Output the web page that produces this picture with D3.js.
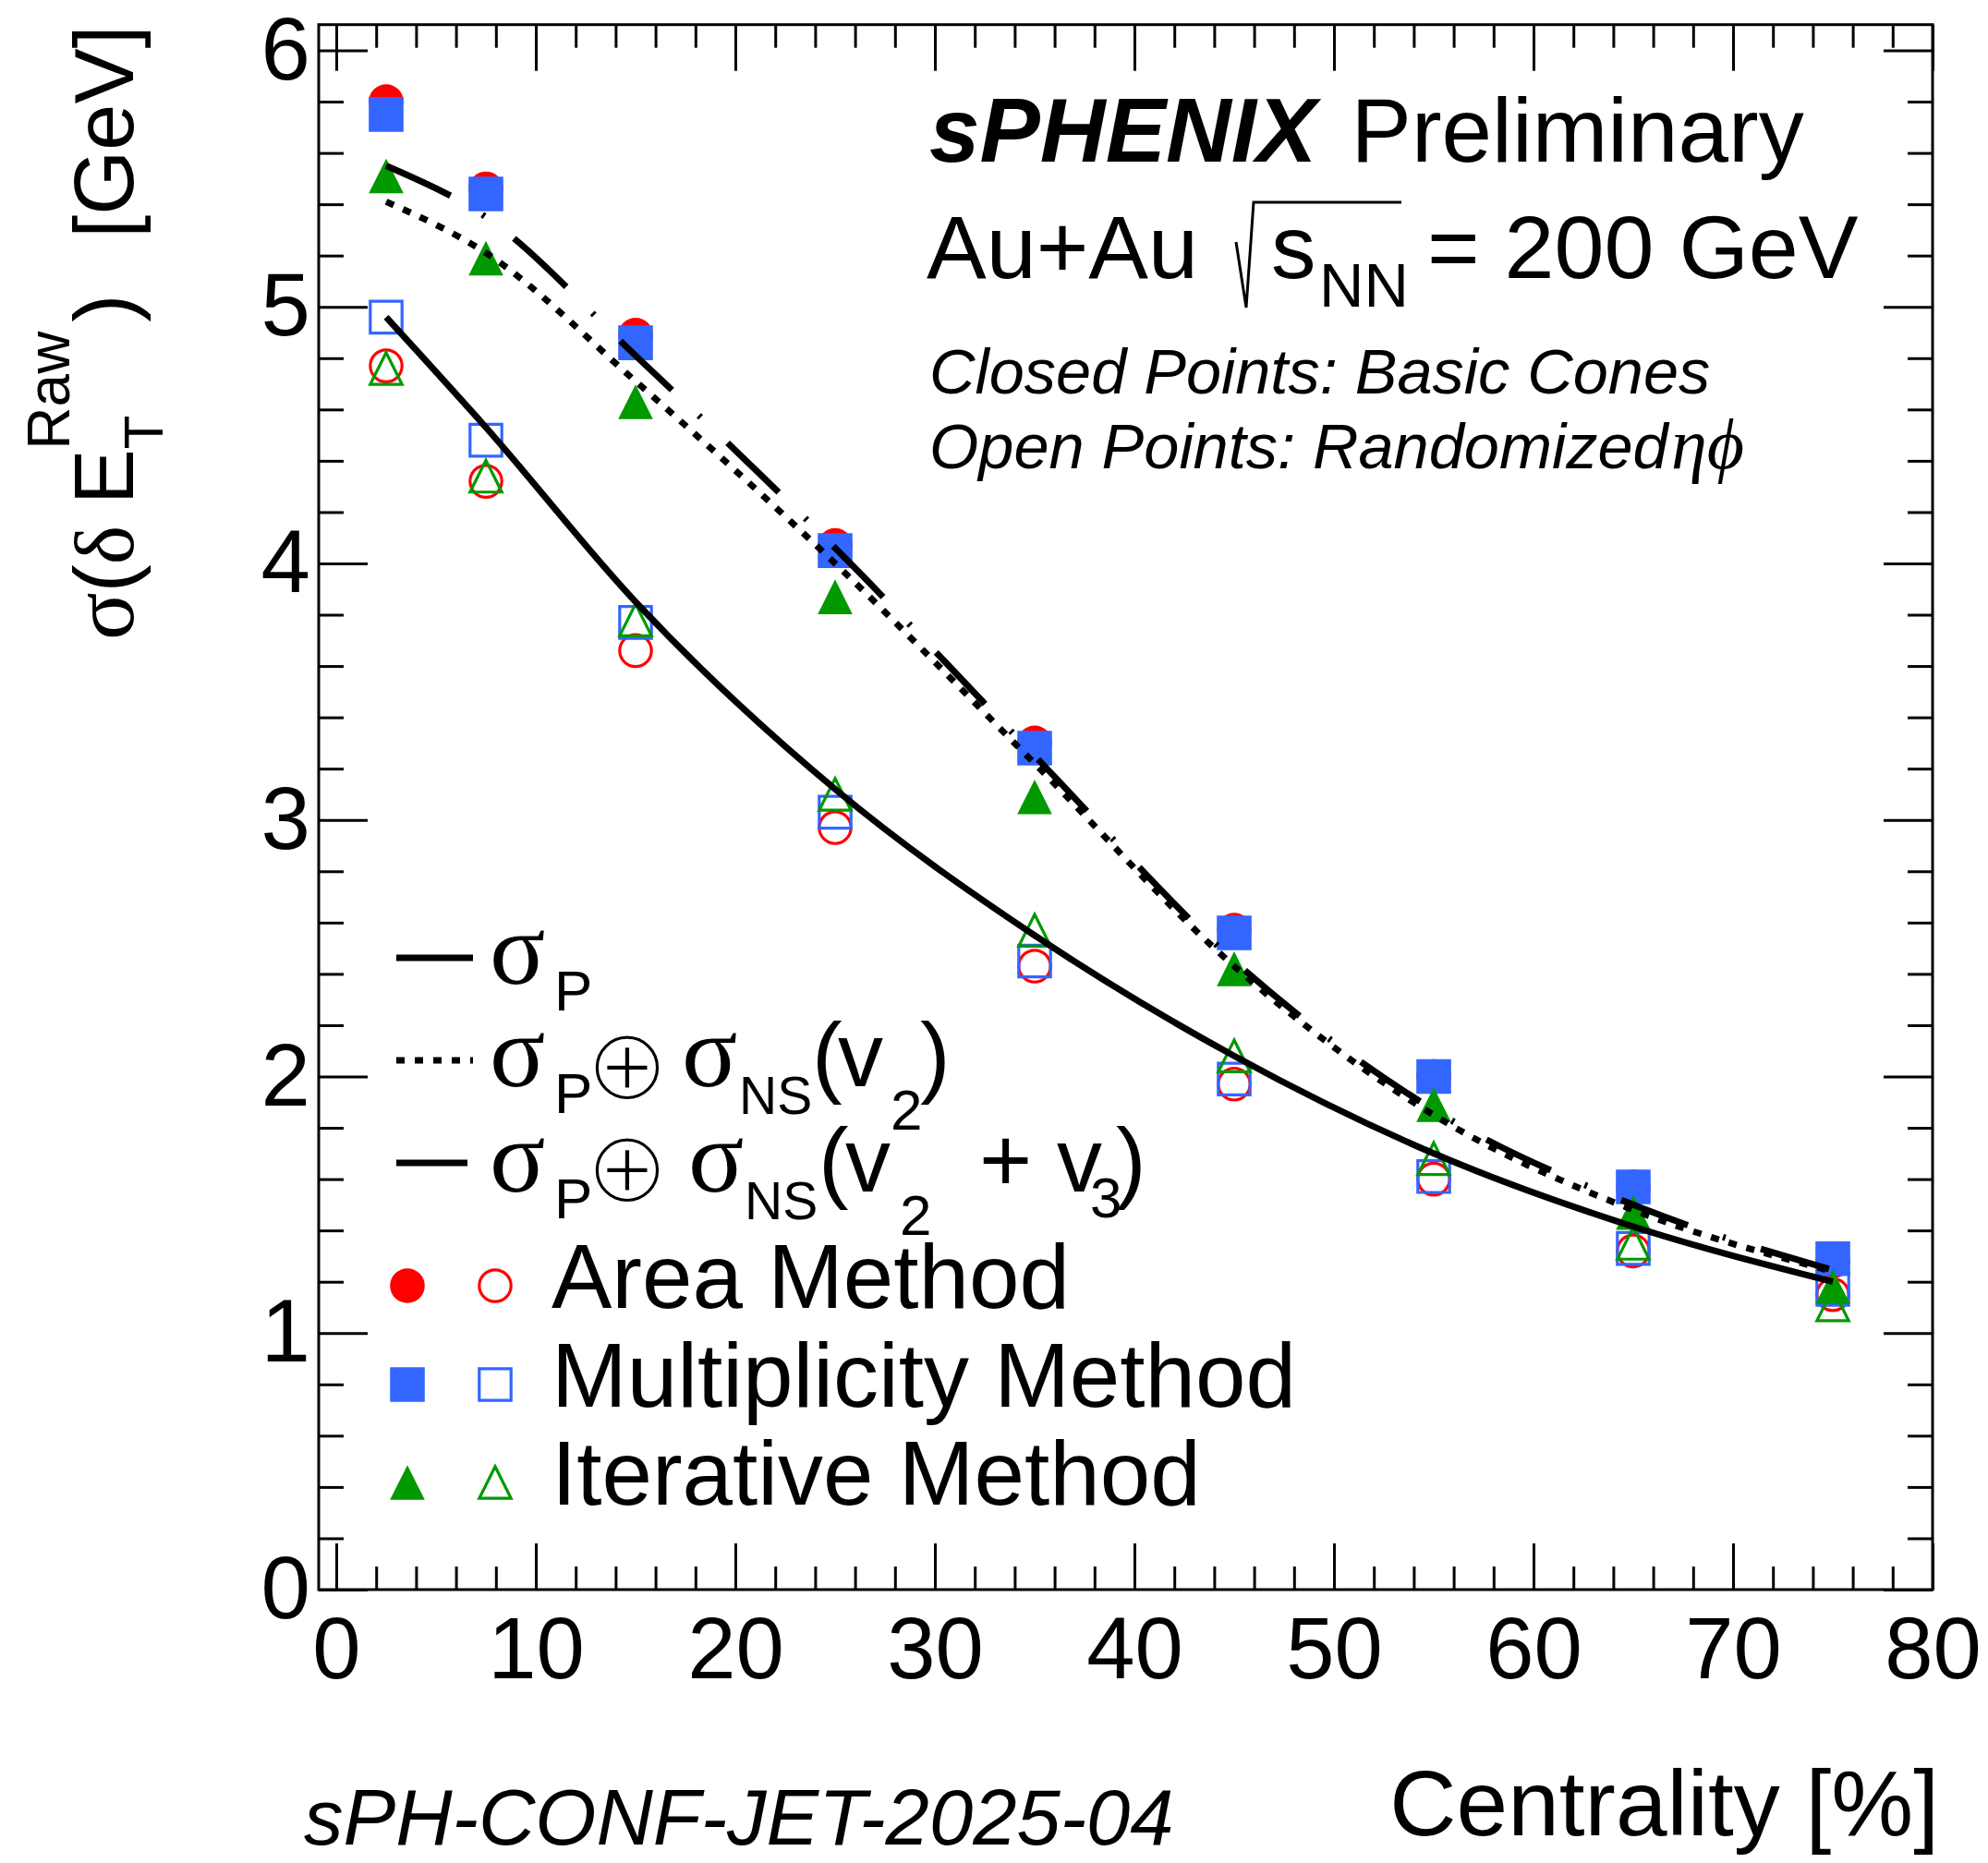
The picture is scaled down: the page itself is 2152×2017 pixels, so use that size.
<!DOCTYPE html>
<html>
<head>
<meta charset="utf-8">
<script src="https://cdn.jsdelivr.net/npm/d3@7"></script>
<style>
  body { margin: 0; background: #fff; }
  svg { display: block; }
  text { font-family: 'Liberation Sans', Arial, sans-serif; fill: #000; }
  .serif { font-family: 'Liberation Serif', 'DejaVu Serif', serif; }
</style>
</head>
<body>
<svg id="chart" width="2152" height="2017"></svg>
<script>
// centrality bins (%)
const centrality = [2.5, 7.5, 15, 25, 35, 45, 55, 65, 75];

// closed points: basic cones
const areaBasic = [5.80, 5.46, 4.89, 4.07, 3.30, 2.57, 2.00, 1.57, 1.28];
const multBasic = [5.75, 5.44, 4.86, 4.05, 3.28, 2.56, 2.00, 1.57, 1.29];
const iterBasic = [5.51, 5.19, 4.63, 3.87, 3.09, 2.42, 1.89, 1.47, 1.18];

// open points: randomized eta-phi
const areaRandom = [4.77, 4.32, 3.66, 2.97, 2.43, 1.97, 1.60, 1.32, 1.15];
const multRandom = [4.96, 4.48, 3.77, 3.03, 2.45, 1.99, 1.61, 1.33, 1.17];
const iterRandom = [4.76, 4.34, 3.78, 3.10, 2.57, 2.08, 1.68, 1.35, 1.11];

// expectation curves
const sigmaP = [4.96, 4.53, 3.85, 3.12, 2.55, 2.08, 1.70, 1.415, 1.20];
const sigmaV2 = [5.41, 5.21, 4.71, 4.00, 3.22, 2.43, 1.85, 1.48, 1.24];
const sigmaV23 = [5.55, 5.35, 4.81, 4.06, 3.25, 2.45, 1.87, 1.50, 1.245];

const xTicks = [0, 10, 20, 30, 40, 50, 60, 70, 80];
const yTicks = [0, 1, 2, 3, 4, 5, 6];

const svg = d3.select('#chart');

const frame = { left: 345, right: 2092, top: 26.7, bottom: 1721 };

const x = d3.scaleLinear().domain([-0.88, 80]).range([frame.left, frame.right]);
const y = d3.scaleLinear().domain([0, 6.1]).range([frame.bottom, frame.top]);

// ---- axes (ticks on all four sides, pointing inward) ----
const xMinor = d3.range(0, 81, 2).filter(d => d % 10 !== 0);
const yMinor = d3.range(0, 6.1, 0.2).map(d => +d.toFixed(1)).filter(d => Math.abs(d - Math.round(d)) > 1e-6);

const styleAxis = g => {
  g.select('.domain').remove();
  g.selectAll('line').attr('stroke', '#000').attr('stroke-width', 3);
};

svg.append('g')
  .attr('transform', `translate(0,${frame.bottom})`)
  .call(d3.axisBottom(x).tickValues(xTicks).tickSizeInner(-50).tickSizeOuter(0)
    .tickPadding(29).tickFormat(d3.format('d')))
  .call(styleAxis)
  .selectAll('text').attr('font-size', 94).attr('font-family', 'Liberation Sans');

svg.append('g')
  .attr('transform', `translate(0,${frame.bottom})`)
  .call(d3.axisBottom(x).tickValues(xMinor).tickSize(-25).tickFormat(''))
  .call(styleAxis);

svg.append('g')
  .attr('transform', `translate(0,${frame.top})`)
  .call(d3.axisTop(x).tickValues(xTicks).tickSize(-50).tickFormat(''))
  .call(styleAxis);

svg.append('g')
  .attr('transform', `translate(0,${frame.top})`)
  .call(d3.axisTop(x).tickValues(xMinor).tickSize(-25).tickFormat(''))
  .call(styleAxis);

svg.append('g')
  .attr('transform', `translate(${frame.left},0)`)
  .call(d3.axisLeft(y).tickValues(yTicks).tickSizeInner(-53).tickSizeOuter(0)
    .tickPadding(9).tickFormat(d3.format('d')))
  .call(styleAxis)
  .selectAll('text').attr('font-size', 96).attr('font-family', 'Liberation Sans');

svg.append('g')
  .attr('transform', `translate(${frame.left},0)`)
  .call(d3.axisLeft(y).tickValues(yMinor).tickSize(-27).tickFormat(''))
  .call(styleAxis);

svg.append('g')
  .attr('transform', `translate(${frame.right},0)`)
  .call(d3.axisRight(y).tickValues(yTicks).tickSize(-53).tickFormat(''))
  .call(styleAxis);

svg.append('g')
  .attr('transform', `translate(${frame.right},0)`)
  .call(d3.axisRight(y).tickValues(yMinor).tickSize(-27).tickFormat(''))
  .call(styleAxis);

svg.append('rect')
  .attr('x', frame.left).attr('y', frame.top)
  .attr('width', frame.right - frame.left).attr('height', frame.bottom - frame.top)
  .attr('fill', 'none').attr('stroke', '#000').attr('stroke-width', 3);

// ---- markers ----
const R = 18.8;
const markerPath = (shape, r) => {
  if (shape === 'circle') return d3.symbol(d3.symbolCircle, Math.PI * r * r)();
  if (shape === 'square') return d3.symbol(d3.symbolSquare, (2 * r) * (2 * r))();
  return `M0,${-r}L${r},${r}L${-r},${r}Z`;
};

const drawMarker = (g, shape, filled, color) => {
  const r = filled ? R : R - 1.6;
  g.append('path')
    .attr('d', markerPath(shape, r))
    .attr('fill', filled ? color : 'none')
    .attr('stroke', filled ? 'none' : color)
    .attr('stroke-width', filled ? 0 : 3.2);
};

const methods = [
  { name: 'Area Method', color: '#ff0000', shape: 'circle', basic: areaBasic, random: areaRandom },
  { name: 'Multiplicity Method', color: '#3366ff', shape: 'square', basic: multBasic, random: multRandom },
  { name: 'Iterative Method', color: '#009900', shape: 'triangle', basic: iterBasic, random: iterRandom }
];

const pts = svg.append('g');
methods.forEach(m => {
  [[m.basic, true], [m.random, false]].forEach(([vals, filled]) => {
    pts.append('g').selectAll('g')
      .data(vals)
      .join('g')
      .attr('transform', (d, i) => `translate(${x(centrality[i])},${y(d)})`)
      .each(function() { drawMarker(d3.select(this), m.shape, filled, m.color); });
  });
});

// ---- curves ----
const lineGen = d3.line()
  .x((d, i) => x(centrality[i]))
  .y(d => y(d))
  .curve(d3.curveMonotoneX);

const curves = [
  { vals: sigmaP, dash: null },
  { vals: sigmaV2, dash: '9 11' },
  { vals: sigmaV23, dash: '77 40 3 40' }
];

curves.forEach(c => {
  svg.append('path')
    .attr('d', lineGen(c.vals))
    .attr('fill', 'none')
    .attr('stroke', '#000')
    .attr('stroke-width', 7)
    .attr('stroke-dasharray', c.dash);
});

// ---- legend ----
const leg = svg.append('g');
const legLineY = [1037, 1148, 1259];
curves.forEach((c, i) => {
  leg.append('line')
    .attr('x1', 429).attr('x2', 512)
    .attr('y1', legLineY[i]).attr('y2', legLineY[i])
    .attr('stroke', '#000').attr('stroke-width', 7)
    .attr('stroke-dasharray', c.dash);
});

const put = (parent, str, px, py, size, cls, extra) => {
  const t = parent.append('text').attr('x', px).attr('y', py).attr('font-size', size).text(str);
  if (cls) t.attr('class', cls);
  if (extra) extra(t);
  return t;
};
// thin circled plus: glyph eroded by a white outline
const oplus = t => t.attr('font-family', 'DejaVu Sans')
  .attr('dominant-baseline', 'central')
  .attr('stroke', '#fff').attr('stroke-width', 5);

// row 1: sigma_P
put(leg, 'σ', 530, 1065, 112, 'serif');
put(leg, 'P', 600, 1094, 62);
// row 2: sigma_P (+) sigma_NS(v2)
put(leg, 'σ', 530, 1176, 112, 'serif');
put(leg, 'P', 600, 1205, 62);
put(leg, '⊕', 632, 1152, 112, null, oplus);
put(leg, 'σ', 738, 1176, 112, 'serif');
put(leg, 'NS', 800, 1206, 57);
put(leg, '(', 879, 1176, 98);
put(leg, 'v', 907, 1176, 98);
put(leg, '2', 964, 1223, 62);
put(leg, ')', 996, 1176, 98);
// row 3: sigma_P (+) sigma_NS(v2 + v3)
put(leg, 'σ', 530, 1290, 112, 'serif');
put(leg, 'P', 600, 1319, 62);
put(leg, '⊕', 632, 1263, 112, null, oplus);
put(leg, 'σ', 745, 1290, 112, 'serif');
put(leg, 'NS', 806, 1320, 57);
put(leg, '(', 886, 1290, 98);
put(leg, 'v', 915, 1290, 98);
put(leg, '2', 974, 1337, 62);
put(leg, '+', 1060, 1290, 98);
put(leg, 'v', 1144, 1290, 98);
put(leg, '3', 1180, 1318, 62);
put(leg, ')', 1208, 1290, 98);

const legMarkY = [1392, 1499, 1605];
methods.forEach((m, i) => {
  drawMarker(leg.append('g').attr('transform', `translate(441,${legMarkY[i]})`), m.shape, true, m.color);
  drawMarker(leg.append('g').attr('transform', `translate(536,${legMarkY[i]})`), m.shape, false, m.color);
  put(leg, m.name, 597, legMarkY[i] + 24, 98);
});

// ---- header texts ----
const hdr = svg.append('g');
const t1 = hdr.append('text').attr('x', 1006).attr('y', 175).attr('font-size', 98);
t1.append('tspan').attr('font-weight', 'bold').attr('font-style', 'italic').text('sPHENIX');
t1.append('tspan').attr('dx', 10).text(' Preliminary');

const t2 = hdr.append('text').attr('font-size', 97);
t2.append('tspan').attr('x', 1003).attr('y', 301).text('Au+Au');
t2.append('tspan').attr('x', 1376).attr('y', 301).text('s');
t2.append('tspan').attr('x', 1428).attr('y', 332).attr('font-size', 67).text('NN');
t2.append('tspan').attr('x', 1545).attr('y', 301).text('= 200 GeV');
hdr.append('path')
  .attr('d', 'M1338,262 L1349,333 L1357,219 L1517,219')
  .attr('fill', 'none').attr('stroke', '#000').attr('stroke-width', 3);

put(hdr, 'Closed Points: Basic Cones', 1006, 426, 68.5, null, t => t.attr('font-style', 'italic'));
put(hdr, 'Open Points: Randomized', 1006, 507, 68.5, null, t => t.attr('font-style', 'italic'));
put(hdr, 'ηϕ', 1809, 507, 78, 'serif', t => t.attr('font-style', 'italic'));

// ---- axis titles ----
put(svg, 'Centrality [%]', 2099, 1987, 100, null, t => t.attr('text-anchor', 'end'));
put(svg, 'sPH-CONF-JET-2025-04', 329, 1997, 85, null, t => t.attr('font-style', 'italic'));

const yt = svg.append('g').attr('transform', 'translate(144,693) rotate(-90)')
  .append('text').attr('font-size', 90);
yt.append('tspan').attr('class', 'serif').attr('font-size', 96).text('σ');
yt.append('tspan').text('(');
yt.append('tspan').attr('class', 'serif').text('δ ');
yt.append('tspan').text('E');
yt.append('tspan').attr('font-size', 60).attr('dy', 32).text('T');
yt.append('tspan').attr('font-size', 64).attr('dx', -37).attr('dy', -101).text('Raw');
yt.append('tspan').attr('dx', 10).attr('dy', 69).text(')');
yt.append('tspan').attr('dx', 36).text(' [GeV]');
</script>
</body>
</html>
